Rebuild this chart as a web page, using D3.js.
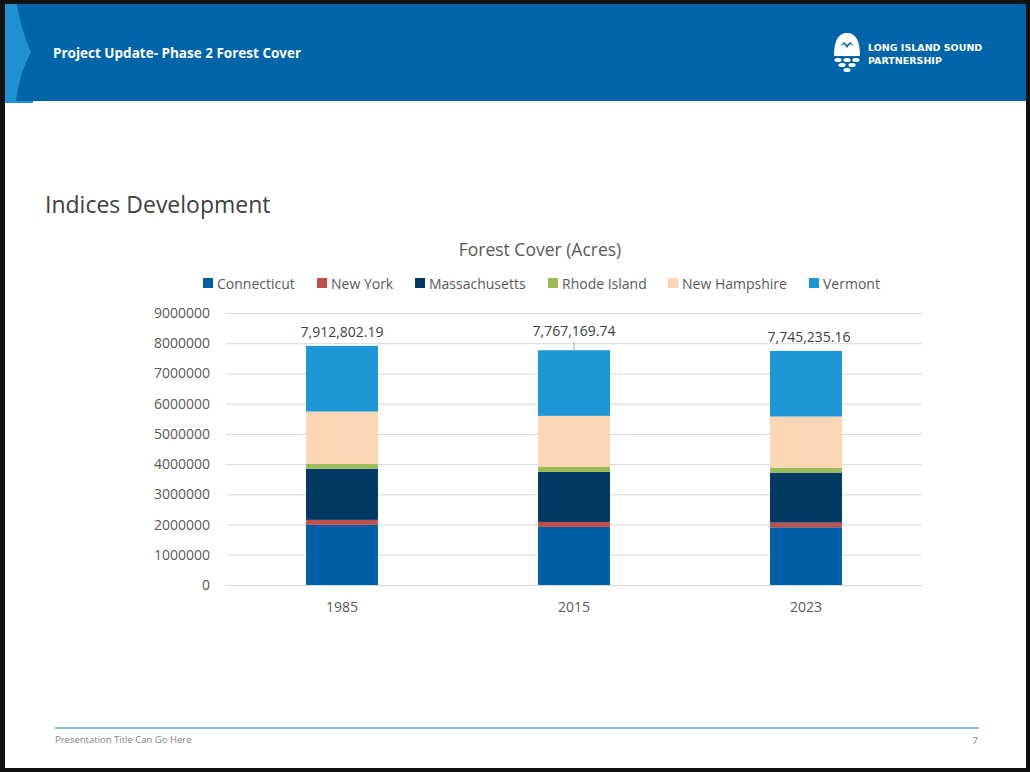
<!DOCTYPE html>
<html>
<head>
<meta charset="utf-8">
<script src="https://cdn.jsdelivr.net/npm/d3@7"></script>
<style>
  body { margin: 0; background: #fff; }
  svg { display: block; font-family: "Open Sans", sans-serif; }
</style>
</head>
<body>
<div id="root"></div>
<script>
const w = 1030, h = 772

// data
const years = ["1985", "2015", "2023"]
const states = ["Connecticut", "New York", "Massachusetts", "Rhode Island", "New Hampshire", "Vermont"]
const connecticut = [1990000, 1920000, 1910000]
const newYork = [165000, 166000, 153000]
const massachusetts = [1690000, 1656000, 1656000]
const rhodeIsland = [165000, 175000, 166000]
const newHampshire = [1730000, 1680000, 1690000]
const vermont = [2172802.19, 2170169.74, 2170235.16]
const totalLabels = ["7,912,802.19", "7,767,169.74", "7,745,235.16"]
const yTicks = [0, 1000000, 2000000, 3000000, 4000000, 5000000, 6000000, 7000000, 8000000, 9000000]

const colors = ["#005fa6", "#c0504d", "#003a62", "#9bbb59", "#fcd5b5", "#1d96d5"]
const labelDy = [0, -5, 0] // excel label nudges

const rows = years.map((y, i) => ({
    year: y,
    "Connecticut": connecticut[i],
    "New York": newYork[i],
    "Massachusetts": massachusetts[i],
    "Rhode Island": rhodeIsland[i],
    "New Hampshire": newHampshire[i],
    "Vermont": vermont[i]
}))

const svg = d3.select("#root").append("svg")
    .attr("width", w)
    .attr("height", h)

// slide frame + header
svg.append("rect").attr("x", 0).attr("y", 0).attr("width", w).attr("height", h).attr("fill", "#111")
svg.append("rect").attr("x", 5).attr("y", 4).attr("width", w - 9).attr("height", h - 8).attr("fill", "#fff")
svg.append("rect").attr("x", 5).attr("y", 4).attr("width", w - 9).attr("height", 97).attr("fill", "#0064a8")
svg.append("path")
    .attr("d", "M5,4 L17,4 Q21,30 31,52 Q19,74 16,101 L5,101 Z")
    .attr("fill", "#1f92d3")
svg.append("rect").attr("x", 5).attr("y", 101).attr("width", 28).attr("height", 2).attr("fill", "#1f92d3")

svg.append("text")
    .attr("x", 53).attr("y", 58)
    .attr("fill", "#fff")
    .attr("font-size", 13.5)
    .attr("font-weight", "bold")
    .text("Project Update- Phase 2 Forest Cover")

// logo
const logo = svg.append("g").attr("fill", "#fff")
logo.append("path").attr("d", "M834,56 Q834,33 847,33 Q860,33 860,56 Z")
logo.append("path").attr("d", "M840,46 L844,42 L847,45 L850,42 L854,46 L850,44 L847,48 L844,44 Z").attr("fill", "#0064a8")
;[[838, 60], [847, 60], [856, 60], [842, 65], [852, 65], [847, 70]].forEach(d => {
    logo.append("ellipse").attr("cx", d[0]).attr("cy", d[1]).attr("rx", 3.6).attr("ry", 2.1)
})
logo.append("text").attr("x", 868).attr("y", 51).attr("font-size", 9.5).attr("font-weight", "bold")
    .attr("font-family", "'DejaVu Sans', sans-serif").text("LONG ISLAND SOUND")
logo.append("text").attr("x", 868).attr("y", 64).attr("font-size", 9.5).attr("font-weight", "bold")
    .attr("font-family", "'DejaVu Sans', sans-serif").text("PARTNERSHIP")

svg.append("text")
    .attr("x", 45).attr("y", 213)
    .attr("fill", "#404040")
    .attr("font-size", 23)
    .text("Indices Development")

// chart
const x = d3.scaleBand().domain(years).range([226, 922]).padding(0)
const y = d3.scaleLinear().domain([0, 9000000]).range([585, 313])
const barW = x.bandwidth() * 0.31

svg.append("text")
    .attr("x", 540).attr("y", 256)
    .attr("text-anchor", "middle")
    .attr("fill", "#595959")
    .attr("font-size", 17.5)
    .text("Forest Cover (Acres)")

const yAxis = svg.append("g")
    .attr("transform", "translate(226,0)")
    .call(d3.axisLeft(y).tickValues(yTicks).tickSize(-696).tickPadding(16).tickFormat(d3.format("d")))
    .attr("font-family", null)
yAxis.select(".domain").remove()
yAxis.selectAll(".tick line").attr("stroke", "#d9d9d9")
yAxis.selectAll(".tick text").attr("fill", "#595959").attr("font-size", 14)

const xAxis = svg.append("g")
    .attr("transform", "translate(0,585)")
    .call(d3.axisBottom(x).tickSize(0).tickPadding(17))
    .attr("font-family", null)
xAxis.select(".domain").attr("stroke", "#d9d9d9")
xAxis.selectAll(".tick text").attr("fill", "#595959").attr("font-size", 14)

const stack = d3.stack().keys(states)(rows)

svg.append("g").selectAll("g")
    .data(stack)
    .join("g")
    .attr("fill", (d, i) => colors[i])
    .selectAll("rect")
    .data(d => d)
    .join("rect")
    .attr("x", d => x(d.data.year) + (x.bandwidth() - barW) / 2)
    .attr("width", barW)
    .attr("y", d => y(d[1]))
    .attr("height", d => y(d[0]) - y(d[1]))

// total labels
const totals = rows.map(r => d3.sum(states, s => r[s]))
svg.append("g").selectAll("text")
    .data(years)
    .join("text")
    .attr("x", (d, i) => x(d) + x.bandwidth() / 2 + (i == 2 ? 3 : 0))
    .attr("y", (d, i) => y(totals[i]) - 9 + labelDy[i])
    .attr("text-anchor", "middle")
    .attr("fill", "#404040")
    .attr("font-size", 14)
    .text((d, i) => totalLabels[i])
// leader line for 2015
svg.append("line")
    .attr("x1", x(years[1]) + x.bandwidth() / 2).attr("x2", x(years[1]) + x.bandwidth() / 2)
    .attr("y1", y(totals[1]) - 8).attr("y2", y(totals[1]))
    .attr("stroke", "#a6a6a6")

// legend
const legendX = [203, 317, 415, 548, 668, 809]
const legend = svg.append("g").selectAll("g")
    .data(states)
    .join("g")
    .attr("transform", (d, i) => `translate(${legendX[i]},278)`)
legend.append("rect").attr("width", 10).attr("height", 10).attr("fill", (d, i) => colors[i])
legend.append("text").attr("x", 14).attr("y", 10.5)
    .attr("fill", "#595959").attr("font-size", 14).text(d => d)

// footer
svg.append("line").attr("x1", 55).attr("x2", 979).attr("y1", 728).attr("y2", 728)
    .attr("stroke", "#5aa6dc").attr("stroke-width", 1.5)
svg.append("text").attr("x", 55).attr("y", 743).attr("font-size", 9.5).attr("fill", "#7f7f7f")
    .text("Presentation Title Can Go Here")
svg.append("text").attr("x", 978).attr("y", 744).attr("font-size", 9.5).attr("fill", "#7f7f7f")
    .attr("text-anchor", "end").text("7")
</script>
</body>
</html>
